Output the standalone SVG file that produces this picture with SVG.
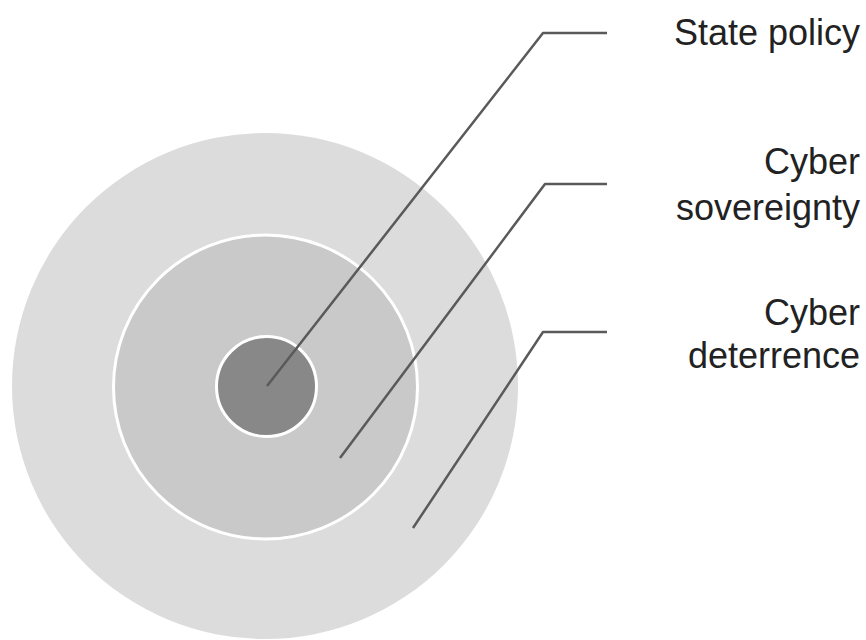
<svg xmlns="http://www.w3.org/2000/svg" width="866" height="640" viewBox="0 0 866 640">
<style>
.ring{stroke:#ffffff;stroke-width:3}
.leader{fill:none;stroke:#5a5a5a;stroke-width:2.5;stroke-linejoin:round;stroke-linecap:butt}
.label{font-family:"Liberation Sans",Arial,sans-serif;font-size:36px;fill:#222222;text-anchor:end}
</style>
<rect width="866" height="640" fill="#ffffff"/>
<g id="cyber-deterrence">
<circle cx="265" cy="386" r="253" fill="#dcdcdc"/>
<text class="label" x="860" y="325">Cyber</text>
<text class="label" x="860" y="368">deterrence</text>
</g>
<g id="cyber-sovereignty">
<circle class="ring" cx="265.5" cy="387" r="152" fill="#c9c9c9"/>
<text class="label" x="860" y="174">Cyber</text>
<text class="label" x="860" y="220">sovereignty</text>
</g>
<g id="state-policy">
<circle class="ring" cx="266.5" cy="386.5" r="50" fill="#888888"/>
<text class="label" x="860" y="45">State policy</text>
</g>
<g id="connectors">
<path class="leader" d="M267 386 L543 33 L607 33"/>
<path class="leader" d="M340 458 L545 184 L607 184"/>
<path class="leader" d="M413 528 L543 332 L607 332"/>
</g>
</svg>
